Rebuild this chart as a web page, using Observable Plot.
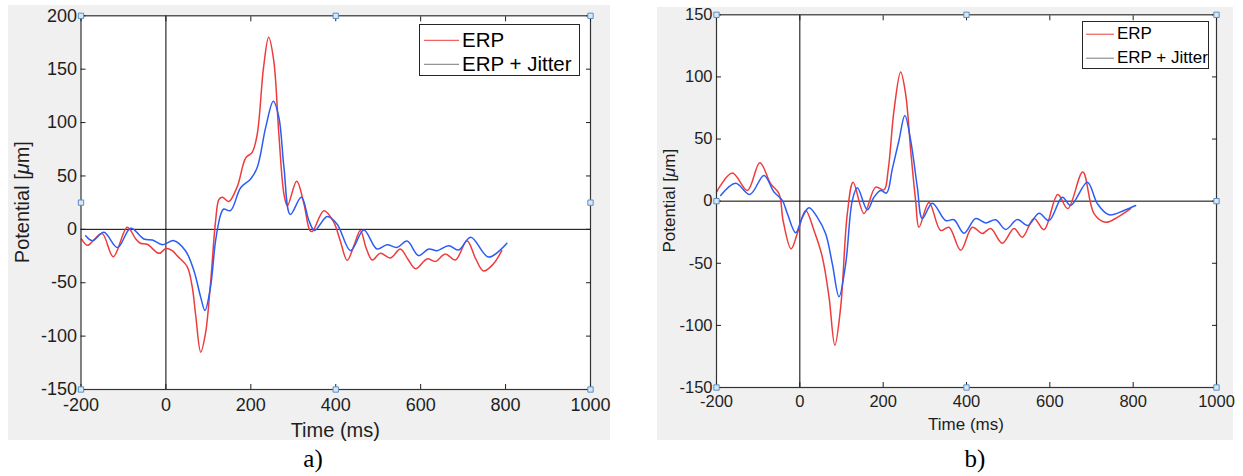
<!DOCTYPE html>
<html><head><meta charset="utf-8">
<script src="https://cdn.jsdelivr.net/npm/d3@7"></script>
<script src="https://cdn.jsdelivr.net/npm/@observablehq/plot@0.6"></script>
<style>
body{margin:0;background:#fff;width:1243px;height:476px;position:relative;overflow:hidden;font-family:"Liberation Sans",Arial,sans-serif;}
.panel{position:absolute;background:#f0f0f0;}
.panel svg{display:block;}
.legend{position:absolute;box-sizing:border-box;background:#fff;border:1px solid #262626;color:#000;}
.legend .row{position:absolute;left:0;white-space:nowrap;}
.caption{position:absolute;font-family:"Liberation Serif","Times New Roman",serif;font-size:25px;transform:translate(-50%,-50%);}
</style></head>
<body>
<div id="pa" class="panel" style="left:8px;top:5px;width:602px;height:435px"></div>
<div id="pb" class="panel" style="left:657px;top:7px;width:576px;height:433px"></div>
<div class="caption" style="left:313px;top:459px">a)</div>
<div class="caption" style="left:975px;top:459px">b)</div>
<script>
// ---------- data ----------
const seriesNames = ["ERP", "ERP + Jitter"];
const xTicks = [-200, 0, 200, 400, 600, 800, 1000];
const yTicksA = [-150, -100, -50, 0, 50, 100, 150, 200];
const yTicksB = [-150, -100, -50, 0, 50, 100, 150];
const captions = ["a)", "b)"];

const tA_erp = [-199,-185,-170,-150,-124,-91,-71,-60,-44,-16,0,15,27,50,62,70,82,93,105,117,125,133,148,168,188,203,215,230,242,254,266,278,286,308,325,339,345,372,395,410,427,443,458,472,486,505,529,552,570,588,615,635,658,682,709,730,748,770,791];
const vA_erp = [-9,-15,-10,-4,-25.6,2,-9,-13,-14,-22.5,-18,-20,-25,-35,-54,-80,-115,-98,-51,8,28,30,26,40,67,72,89,152,180,158,89,33,22,45,24,-1,-2,17.5,7,-10,-29,-15,-1,-18,-28.7,-22.5,-26.8,-18.4,-28,-37,-27.7,-30,-23,-28.7,-10.6,-28,-39,-33,-20];
const tA_jit = [-189,-173,-146,-114,-83,-52,-32,-8,19,46,66,82,92,105,117,129,136,152,176,199,215,235,253,266,278,293,319,337,350,380,403,435,466,497,521,544,568,595,619,639,666,689,718,760,803];
const vA_jit = [-6,-10.6,-2.8,-17,1,-9,-10,-14.4,-10.6,-20,-38.7,-63.7,-76,-54,-10.6,14,19,17.5,39,47,58,95.5,120,105,58,14,30,8,-1,12,5,-20,-0.6,-18.4,-14.4,-17,-11,-24.6,-18.4,-20,-15.3,-19.3,-7.5,-26,-13];

const tB_erp = [-200,-162,-126,-96,-70,-50,-40,-21,-6,14,34,54,70,84,98,114,128,154,182,202,212,226,242,254,266,278,286,310,338,358,386,414,438,458,486,514,534,562,586,619,643,679,706,734,762,794];
const vB_erp = [7.3,22.6,8.6,31,14,6,-16,-38.4,-26,-7.5,-23.6,-45,-77,-116,-85.5,-10,15.3,-10,11.3,9,25,73,104,86,41,0,-21,-1,-23.6,-21,-39.5,-21,-26,-22,-33.8,-22,-29,-14,-23,5.4,-6,23.4,-10,-17,-13,-6];
const tB_jit = [-190,-154,-120,-86,-62,-42,-30,-10,6,22,42,62,78,94,110,126,138,162,178,194,208,222,238,252,266,282,294,318,350,370,394,422,446,470,494,522,547,574,598,630,650,690,714,742,778,806];
const vB_jit = [4.6,14.5,5.4,20.7,7.3,0.6,-10,-25.5,-13,-5.3,-13,-26.3,-50.5,-77,-50.5,0.6,10.8,-7,3.2,8.6,6.5,26,49,69,49,11.3,-14,-1.6,-15.6,-15,-25.8,-14,-17.5,-15,-22.8,-14.8,-19.6,-9.7,-15.6,3.2,-3.5,15.3,-2,-11,-7.5,-3.5];

// ---------- style ----------
const RED = "#ee3b3b", BLUE = "#2b5cf5", INK = "#1e1e1e";

function rows(ts, vs){ return ts.map((t,i)=>({t, v: vs[i]})); }

function panel(el, cfg){
  const xd = [-200, 1000];
  const yd = cfg.yd;
  const xm = (xd[0]+xd[1])/2, ym = (yd[0]+yd[1])/2;
  const handles = [[xd[0],yd[1]],[xm,yd[1]],[xd[1],yd[1]],[xd[0],ym],[xd[1],ym],[xd[0],yd[0]],[xm,yd[0]],[xd[1],yd[0]]].map(([x,y])=>({x,y}));
  const fmt = d => String(d);
  const p = Plot.plot({
    width: cfg.w, height: cfg.h,
    marginLeft: cfg.ml, marginRight: cfg.mr, marginTop: cfg.mt, marginBottom: cfg.mb,
    style: {background: "transparent", fontFamily: '"Liberation Sans", Arial, sans-serif', fontSize: cfg.fs + "px", color: INK, overflow: "visible"},
    x: {domain: xd},
    y: {domain: yd},
    marks: [
      Plot.frame({fill: "white", stroke: "none"}),
      Plot.ruleY([0], {stroke: "#000", strokeWidth: 1}),
      Plot.ruleX([0], {stroke: "#000", strokeWidth: 1}),
      Plot.line(cfg.erp, {x: "t", y: "v", stroke: RED, strokeWidth: 1.5, curve: "catmull-rom"}),
      Plot.line(cfg.jit, {x: "t", y: "v", stroke: BLUE, strokeWidth: 1.5, curve: "catmull-rom"}),
      Plot.frame({stroke: "#333", strokeWidth: 1.2}),
      Plot.axisX({anchor: "bottom", ticks: xTicks, tickSize: -5, tickPadding: cfg.xpad, tickFormat: fmt, label: null}),
      Plot.axisX({anchor: "top", ticks: xTicks, tickSize: -5, fill: "none", label: null}),
      Plot.axisY({anchor: "left", ticks: cfg.yTicks, tickSize: -5, tickPadding: 9, tickFormat: fmt, label: null}),
      Plot.axisY({anchor: "right", ticks: cfg.yTicks, tickSize: -5, fill: "none", label: null}),
      Plot.dot(handles, {x: "x", y: "y", symbol: "square", r: 3, stroke: "#5b8fc4", fill: "#d8e7f5", strokeWidth: 1})
    ]
  });
  const svg = d3.select(p);
  const cx = cfg.ml + (cfg.w - cfg.ml - cfg.mr)/2;
  const cy = cfg.mt + (cfg.h - cfg.mt - cfg.mb)/2;
  svg.append("text").attr("x", cx).attr("y", cfg.xty).attr("dy", "0.35em")
    .attr("text-anchor", "middle").attr("fill", INK).style("font-size", cfg.tfs + "px").text("Time (ms)");
  const yt = svg.append("text").attr("transform", `translate(${cfg.ytx},${cy}) rotate(-90)`).attr("dy", "0.35em")
    .attr("text-anchor", "middle").attr("fill", INK).style("font-size", cfg.tfs + "px");
  yt.append("tspan").text("Potential [");
  yt.append("tspan").style("font-style", "italic").text("\u03bc");
  yt.append("tspan").text("m]");
  el.appendChild(p);

  // legend
  const lg = document.createElement("div");
  lg.className = "legend";
  Object.assign(lg.style, {left: cfg.lg.x + "px", top: cfg.lg.y + "px", width: cfg.lg.w + "px", height: cfg.lg.h + "px", fontSize: cfg.lg.fs + "px"});
  const colors = [RED, "#7a7a7a"];
  seriesNames.forEach((name, i) => {
    const r = document.createElement("div");
    r.className = "row";
    r.style.top = (cfg.lg.rows[i] - cfg.lg.fs*0.6) + "px";
    r.style.height = (cfg.lg.fs*1.2) + "px";
    r.style.lineHeight = (cfg.lg.fs*1.2) + "px";
    r.innerHTML = `<svg width="${cfg.lg.sw}" height="${cfg.lg.fs*1.2}" style="position:absolute;left:${cfg.lg.sx}px;top:0"><line x1="0" x2="${cfg.lg.sw}" y1="${cfg.lg.fs*0.6}" y2="${cfg.lg.fs*0.6}" stroke="${colors[i]}" stroke-width="1"/></svg><span style="position:absolute;left:${cfg.lg.tx}px">${name}</span>`;
    lg.appendChild(r);
  });
  el.appendChild(lg);
}

const elA = document.getElementById("pa");
panel(elA, {w: 602, h: 435, ml: 72.5, mr: 20, mt: 10.3, mb: 51, yd: [-150, 200], yTicks: yTicksA,
  erp: rows(tA_erp, vA_erp), jit: rows(tA_jit, vA_jit), fs: 18, xpad: 14, tfs: 20, xty: 425, ytx: 13.5,
  lg: {x: 411, y: 19, w: 161, h: 52, fs: 20.5, rows: [15, 39], sx: 4, sw: 35, tx: 42}});
const elB = document.getElementById("pb");
panel(elB, {w: 576, h: 433, ml: 59, mr: 17, mt: 7.3, mb: 53, yd: [-150, 150], yTicks: yTicksB,
  erp: rows(tB_erp, vB_erp), jit: rows(tB_jit, vB_jit), fs: 16.5, xpad: 13, tfs: 17, xty: 417, ytx: 12,
  lg: {x: 425, y: 14, w: 127, h: 48, fs: 17, rows: [12.5, 36.5], sx: 3, sw: 28, tx: 34}});
</script>
</body></html>
